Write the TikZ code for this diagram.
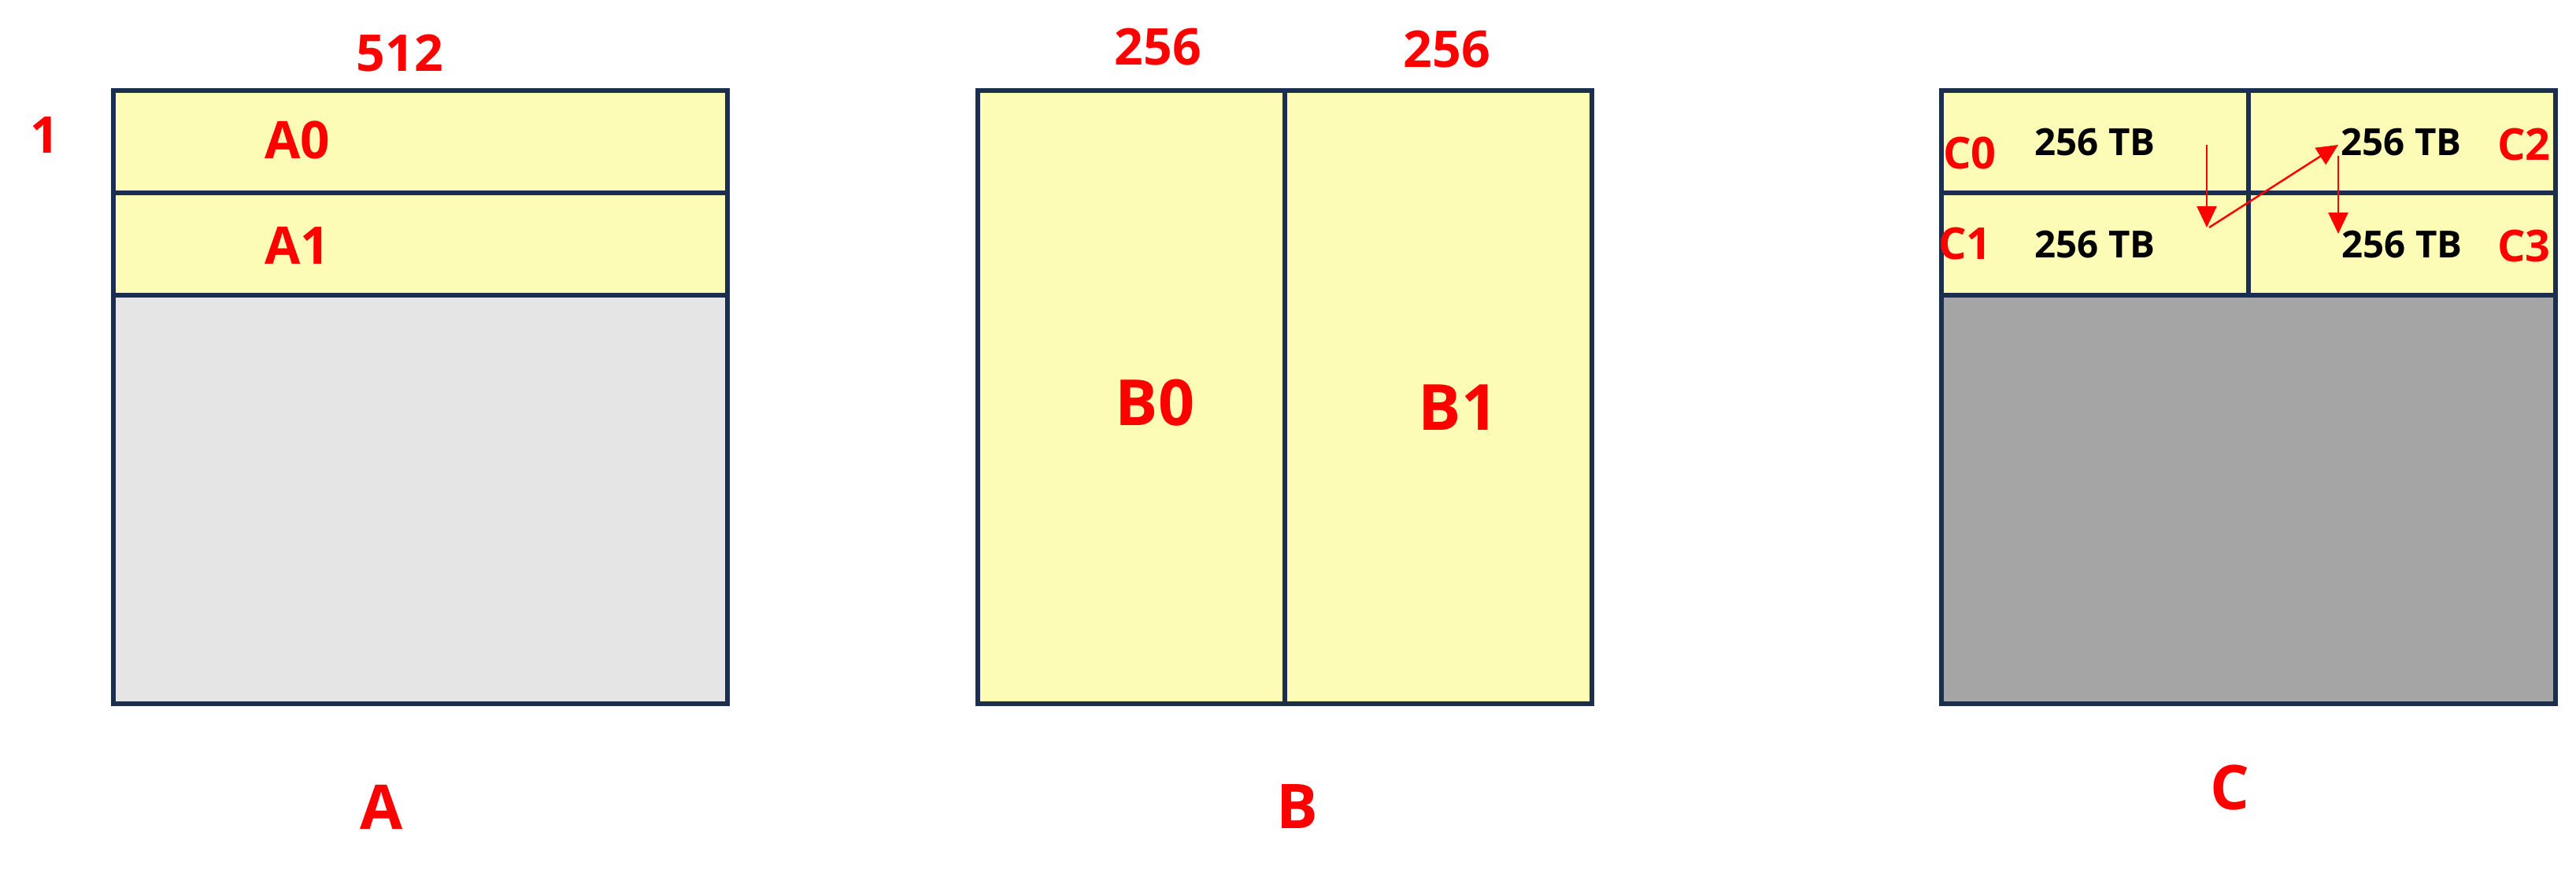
\documentclass[tikz,border=0pt]{standalone}
\usepackage{fontspec}
\setmainfont{Open Sans}
\usepackage{xcolor}
\usetikzlibrary{positioning,arrows.meta}

\definecolor{cellyellow}{RGB}{252,252,182}
\definecolor{lightgrey}{RGB}{229,229,229}
\definecolor{darkgrey}{RGB}{165,165,165}
\definecolor{edgeblue}{RGB}{27,46,80}

\begin{document}
\begin{tikzpicture}[
  cell/.style={draw=edgeblue, line width=1.5pt, rectangle, inner sep=0pt, outer sep=0pt, minimum width=7.8cm, minimum height=1.3cm, fill=cellyellow},
  half/.style={cell, minimum width=3.9cm},
  rest/.style={cell, minimum height=5.19cm},
  dim/.style={text=red, inner sep=0pt, font=\fontsize{18.3}{20}\selectfont\bfseries},
  part/.style={text=red, inner sep=0pt, font=\fontsize{18.7}{20}\selectfont\bfseries},
  big/.style={text=red, inner sep=0pt, font=\fontsize{23}{25}\selectfont\bfseries},
  title/.style={text=red, inner sep=0pt, font=\fontsize{22.3}{24}\selectfont\bfseries},
  tag/.style={text=red, inner sep=0pt, font=\fontsize{15.9}{18}\selectfont\bfseries},
  size/.style={text=black, inner sep=0pt, font=\fontsize{13.5}{16}\selectfont\bfseries},
  arr/.style={-{Triangle[length=0.27cm, width=0.25cm]}, red, line width=0.7pt}
]
\useasboundingbox (0,0) rectangle (32.72,-11.23);

% A: two rows of 512
\node[cell, anchor=north west] (A0) at (1.44,-1.15) {};
\node[cell, below=0pt of A0] (A1) {};
\node[rest, fill=lightgrey, below=0pt of A1] (A2) {};
\node[dim] (a512) at (5.08,-0.68) {512};
\node[dim] (arow) at (0.57,-1.72) {1};
\node[part] (a0lbl) at (3.78,-1.78) {A0};
\node[part] (a1lbl) at (3.78,-3.12) {A1};
\node[title] (atitle) at (4.85,-10.25) {A};

% B: two columns of 256
\node[half, minimum height=7.79cm, anchor=north west] (B0) at (12.42,-1.15) {};
\node[half, minimum height=7.79cm, right=0pt of B0] (B1) {};
\node[dim] (b256l) at (14.71,-0.60) {256};
\node[dim] (b256r) at (18.38,-0.63) {256};
\node[big] (b0lbl) at (14.67,-5.12) {B0};
\node[big] (b1lbl) at (18.52,-5.18) {B1};
\node[title] (btitle) at (16.48,-10.25) {B};

% C: 2x2 tiles
\node[half, anchor=north west] (C0) at (24.66,-1.15) {};
\node[half, right=0pt of C0] (C2) {};
\node[half, below=0pt of C0] (C1) {};
\node[half, below=0pt of C2] (C3) {};
\node[rest, fill=darkgrey, anchor=north west] (C4) at (C1.south west) {};
\node[tag] (c0lbl) at (25.02,-1.95) {C0};
\node[tag] (c1lbl) at (24.96,-3.10) {C1};
\node[tag] (c2lbl) at (32.06,-1.84) {C2};
\node[tag] (c3lbl) at (32.06,-3.13) {C3};
\node[size] (c0size) at (26.61,-1.81) {256 TB};
\node[size] (c1size) at (26.61,-3.11) {256 TB};
\node[size] (c2size) at (30.50,-1.81) {256 TB};
\node[size] (c3size) at (30.51,-3.11) {256 TB};
\node[title] (ctitle) at (28.32,-10.00) {C};

% traversal order
\coordinate (p0) at (28.03,-1.84);
\coordinate (p1) at (28.03,-2.89);
\coordinate (p2) at (28.06,-2.89);
\coordinate (p3) at (29.70,-1.84);
\coordinate (p4) at (29.70,-1.98);
\coordinate (p5) at (29.70,-2.97);
\draw[arr] (p0) -- (p1);
\draw[arr] (p2) -- (p3);
\draw[arr] (p4) -- (p5);

\end{tikzpicture}
\end{document}
